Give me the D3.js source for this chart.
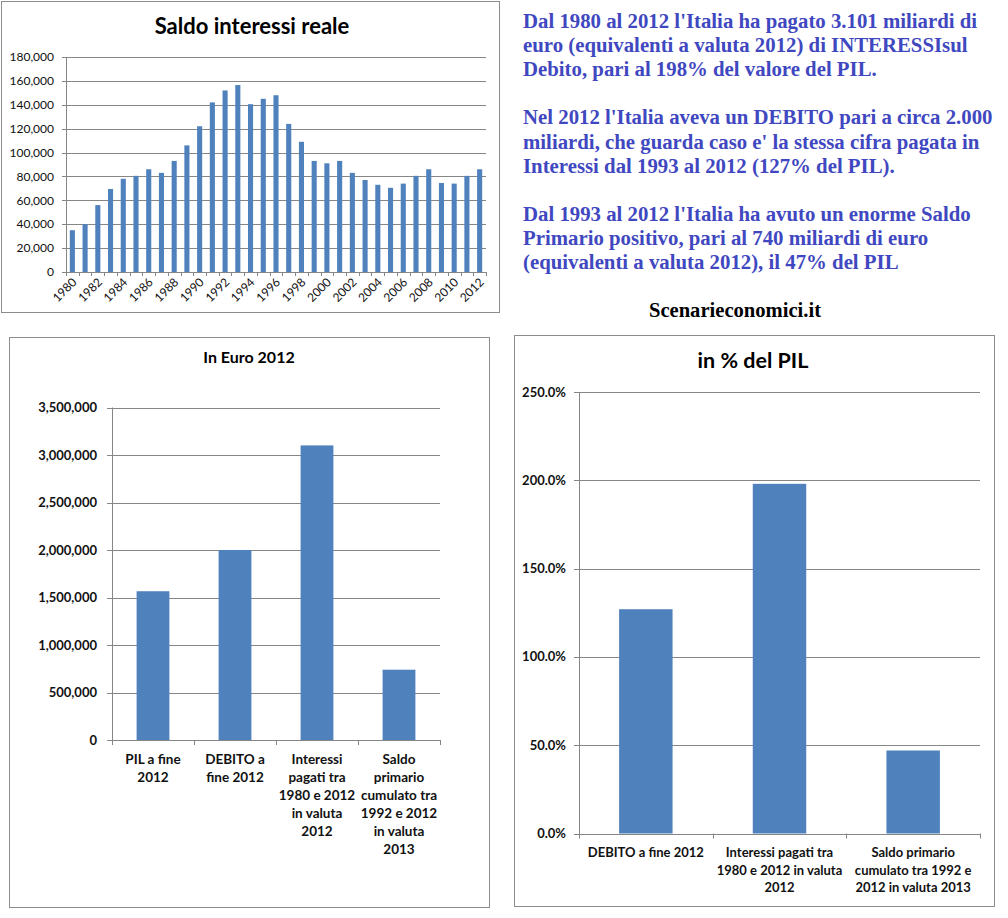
<!DOCTYPE html>
<html>
<head>
<meta charset="utf-8">
<script src="https://cdn.jsdelivr.net/npm/d3@7"></script>
<style>
html,body{margin:0;padding:0;background:#fff;}
svg{display:block;}
</style>
</head>
<body>
<script>
// ---------- DATA ----------
const years = ["1980","1981","1982","1983","1984","1985","1986","1987","1988","1989","1990",
  "1991","1992","1993","1994","1995","1996","1997","1998","1999","2000","2001","2002","2003",
  "2004","2005","2006","2007","2008","2009","2010","2011","2012"];
const saldoInteressiReale = [35000,40000,56000,69500,78000,80500,86000,83000,93000,106000,122000,
  142000,152000,156500,140500,145000,148000,124000,109000,93000,91000,93000,83000,77000,
  73000,70500,74000,80500,86000,74500,74000,80500,86000];
const topTicks = [0,20000,40000,60000,80000,100000,120000,140000,160000,180000];

const euroCats = ["PIL a fine\n2012","DEBITO a\nfine 2012","Interessi\npagati tra\n1980 e 2012\nin valuta\n2012",
  "Saldo\nprimario\ncumulato tra\n1992 e 2012\nin valuta\n2013"];
const euroValues = [1566000,2000000,3101000,740000];
const euroTicks = [0,500000,1000000,1500000,2000000,2500000,3000000,3500000];

const pctCats = ["DEBITO a fine 2012","Interessi pagati tra\n1980 e 2012  in valuta\n2012",
  "Saldo primario\ncumulato tra 1992  e\n2012 in valuta 2013"];
const pctValues = [127,198,47];
const pctTicks = [0,50,100,150,200,250];

const noteLines = [
  "Dal 1980 al 2012 l'Italia ha pagato 3.101 miliardi di",
  "euro (equivalenti a valuta 2012) di INTERESSIsul",
  "Debito, pari al 198% del valore del PIL.",
  "",
  "Nel 2012 l'Italia aveva un DEBITO pari a circa 2.000",
  "miliardi, che guarda caso e' la stessa cifra pagata in",
  "Interessi dal 1993 al 2012 (127% del PIL).",
  "",
  "Dal 1993 al 2012 l'Italia ha avuto un enorme Saldo",
  "Primario positivo, pari al 740 miliardi di euro",
  "(equivalenti a valuta 2012), il 47% del PIL"
];
const siteLabel = "Scenarieconomici.it";

// ---------- STYLE ----------
const BAR = "#4F81BD", GRID = "#868686", BORDER = "#8c8c8c";
const SANS = "Lato, 'Open Sans', sans-serif";
const SERIF = "'Liberation Serif', 'Times New Roman', serif";

const svg = d3.select("body").append("svg").attr("width",1008).attr("height",918);
svg.append("rect").attr("width",1008).attr("height",918).attr("fill","#fff");

function frame(x,y,w,h){
  svg.append("rect").attr("x",x+0.5).attr("y",y+0.5).attr("width",w).attr("height",h)
    .attr("fill","#fff").attr("stroke",BORDER).attr("stroke-width",1);
}

function barChart(opt){
  const g = svg.append("g");
  const x = d3.scaleBand().domain(opt.cats.map((d,i)=>i)).range([opt.x0,opt.x1])
    .paddingInner(0.6).paddingOuter(0.3);
  const y = d3.scaleLinear().domain([0,opt.max]).range([opt.y0,opt.y1]);
  // gridlines (with tick marks left of the axis)
  g.selectAll("line.grid").data(opt.ticks).join("line")
    .attr("x1",opt.x0-opt.tickLen).attr("x2",opt.x1)
    .attr("y1",d=>Math.round(y(d))+0.5).attr("y2",d=>Math.round(y(d))+0.5)
    .attr("stroke",GRID).attr("stroke-width",1);
  // y axis line
  g.append("line").attr("x1",opt.x0+0.5).attr("x2",opt.x0+0.5)
    .attr("y1",y(opt.max)).attr("y2",opt.y0+0.5).attr("stroke",GRID);
  // x tick marks at category boundaries
  const bounds = d3.range(opt.cats.length+1).map(i=> i<opt.cats.length ? x(i)-(x.step()-x.bandwidth())/2 : opt.x1);
  g.selectAll("line.xt").data(bounds).join("line")
    .attr("x1",d=>Math.round(d)+0.5).attr("x2",d=>Math.round(d)+0.5)
    .attr("y1",opt.y0).attr("y2",opt.y0+opt.tickLen).attr("stroke",GRID);
  // bars
  g.selectAll("rect.bar").data(opt.values).join("rect")
    .attr("x",(d,i)=>x(i)).attr("width",x.bandwidth())
    .attr("y",d=>y(d)).attr("height",d=>opt.y0-y(d)).attr("fill",BAR);
  // y labels
  g.selectAll("text.yl").data(opt.ticks).join("text")
    .attr("x",opt.ylx).attr("y",d=>y(d)).attr("dy","0.35em")
    .attr("text-anchor","end").attr("font-family",SANS)
    .attr("font-size",opt.yfs).attr("font-weight",opt.yfw).attr("fill","#111")
    .text(opt.yfmt);
  return {g,x,y};
}

// ---------- TOP-LEFT CHART ----------
frame(1,1,498,311);
svg.append("text").attr("x",252).attr("y",34).attr("text-anchor","middle")
  .attr("font-family",SANS).attr("font-weight","bold").attr("font-size",22).text("Saldo interessi reale");
{
  const c = barChart({cats:years, values:saldoInteressiReale, ticks:topTicks, max:180000,
    x0:66, x1:486, y0:272, y1:57, tickLen:4, ylx:54, yfs:12, yfw:"normal",
    yfmt:d3.format(",")});
  c.g.selectAll("text.xl").data(years.filter((d,i)=>i%2===0)).join("text")
    .attr("text-anchor","end").attr("font-family",SANS).attr("font-size",12).attr("fill","#111")
    .attr("transform",d=>{const i=years.indexOf(d);return `translate(${c.x(i)+c.x.bandwidth()/2+5},283) rotate(-45)`;})
    .text(d=>d);
}

// ---------- TEXT BLOCK ----------
svg.append("g").selectAll("text").data(noteLines).join("text")
  .attr("x",523).attr("y",(d,i)=>28+i*24.1)
  .attr("font-family",SERIF).attr("font-weight","bold").attr("font-size",20.8)
  .attr("fill","#3F48C0").text(d=>d);
svg.append("text").attr("x",735).attr("y",317).attr("text-anchor","middle")
  .attr("font-family",SERIF).attr("font-weight","bold").attr("font-size",20.6).attr("fill","#000")
  .text(siteLabel);

function multiLabels(c, cats, baseY, lh, fs){
  cats.forEach((lbl,i)=>{
    const t = svg.append("text").attr("text-anchor","middle").attr("font-family",SANS)
      .attr("font-weight","bold").attr("font-size",fs).attr("fill","#111");
    lbl.split("\n").forEach((ln,j)=>{
      t.append("tspan").attr("x",c.x(i)+c.x.bandwidth()/2).attr("y",baseY+j*lh).text(ln);
    });
  });
}

// ---------- BOTTOM-LEFT CHART ----------
frame(9,337,480,570);
svg.append("text").attr("x",249).attr("y",363).attr("text-anchor","middle")
  .attr("font-family",SANS).attr("font-weight","bold").attr("font-size",16).text("In Euro 2012");
{
  const c = barChart({cats:euroCats, values:euroValues, ticks:euroTicks, max:3500000,
    x0:112, x1:440, y0:740, y1:407.5, tickLen:5, ylx:97, yfs:13, yfw:"bold",
    yfmt:d3.format(",")});
  multiLabels(c, euroCats, 764, 18, 13.5);
}

// ---------- BOTTOM-RIGHT CHART ----------
frame(514,335,480,571);
svg.append("text").attr("x",753).attr("y",368).attr("text-anchor","middle")
  .attr("font-family",SANS).attr("font-weight","bold").attr("font-size",21.5).text("in % del PIL");
{
  const c = barChart({cats:pctCats, values:pctValues, ticks:pctTicks, max:250,
    x0:579, x1:980, y0:833.5, y1:392, tickLen:5, ylx:566, yfs:13, yfw:"bold",
    yfmt:d=>d3.format(".1f")(d)+"%"});
  multiLabels(c, pctCats, 857, 17.7, 13);
}
</script>
</body>
</html>
